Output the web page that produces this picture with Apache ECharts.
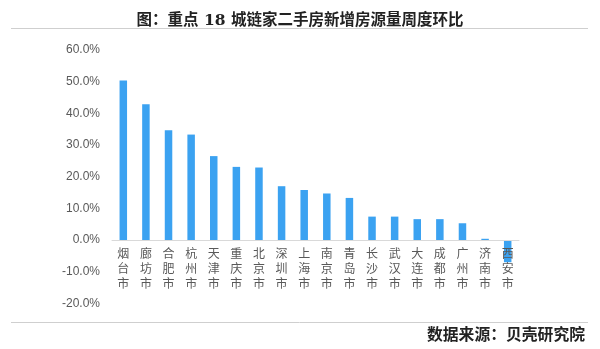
<!DOCTYPE html>
<html>
<head>
<meta charset="utf-8">
<script src="https://cdn.jsdelivr.net/npm/echarts@6/dist/echarts.min.js"></script>
<style>
  html, body { margin: 0; padding: 0; background: #ffffff; }
  #chart { width: 600px; height: 349px; }
</style>
</head>
<body>
<div id="chart"></div>
<script>
// 18 cities, weekly change in newly listed second-hand homes (%)
const cities = ['烟台市', '廊坊市', '合肥市', '杭州市', '天津市', '重庆市', '北京市', '深圳市', '上海市',
                '南京市', '青岛市', '长沙市', '武汉市', '大连市', '成都市', '广州市', '济南市', '西安市'];
const weeklyChange = [50.4, 42.9, 34.7, 33.3, 26.5, 23.1, 22.9, 17.0, 15.8,
                      14.7, 13.3, 7.4, 7.4, 6.6, 6.6, 5.3, 0.4, -7.0];
const yTicks = { min: -20, max: 60, step: 10 };

const titleText = '图：重点 18 城链家二手房新增房源量周度环比';
const sourceText = '数据来源：贝壳研究院';

const chart = echarts.init(document.getElementById('chart'), null, { renderer: 'canvas' });

const gridTop = 50;
const gridHeight = 253.4;
// lift the category axis (line + labels) from the grid bottom to the 0% level
const zeroLift = -gridHeight * (0 - yTicks.min) / (yTicks.max - yTicks.min);

chart.setOption({
  animation: false,
  backgroundColor: '#ffffff',
  title: {
    text: titleText,
    left: 'center',
    top: 8,
    textStyle: { fontFamily: "'DejaVu Serif', 'Noto Sans CJK SC', serif", fontSize: 15.5, fontWeight: 'bold', color: '#222222' }
  },
  graphic: [
    { type: 'line', shape: { x1: 11, y1: 28.5, x2: 588, y2: 28.5 }, style: { stroke: '#cfcfcf', lineWidth: 1 } },
    { type: 'line', shape: { x1: 11, y1: 322.5, x2: 588, y2: 322.5 }, style: { stroke: '#cfcfcf', lineWidth: 1 } },
    {
      type: 'text', right: 15, top: 326,
      style: { text: sourceText, font: "bold 15.8px 'Noto Sans CJK SC', serif", fill: '#222222' }
    }
  ],
  grid: { left: 112, right: 81, top: gridTop, height: gridHeight },
  xAxis: {
    type: 'category',
    data: cities,
    offset: zeroLift,
    z: 5,
    axisLine: { onZero: false, lineStyle: { color: '#d9d9d9', width: 1 } },
    axisTick: { show: false },
    axisLabel: {
      interval: 0,
      margin: 6,
      color: '#595959',
      fontSize: 12,
      lineHeight: 15,
      fontFamily: "'Noto Sans CJK SC', sans-serif",
      formatter: v => v.split('').join('\n')
    }
  },
  yAxis: {
    type: 'value',
    min: yTicks.min,
    max: yTicks.max,
    interval: yTicks.step,
    axisLine: { show: false },
    axisTick: { show: false },
    splitLine: { show: false },
    axisLabel: {
      margin: 12,
      color: '#595959',
      fontSize: 12,
      fontFamily: "'Liberation Sans', Arial, sans-serif",
      formatter: v => v.toFixed(1) + '%'
    }
  },
  series: [{
    type: 'bar',
    data: weeklyChange,
    barWidth: 7.5,
    itemStyle: { color: '#3ba2f1' },
    z: 1
  }]
});
</script>
</body>
</html>
